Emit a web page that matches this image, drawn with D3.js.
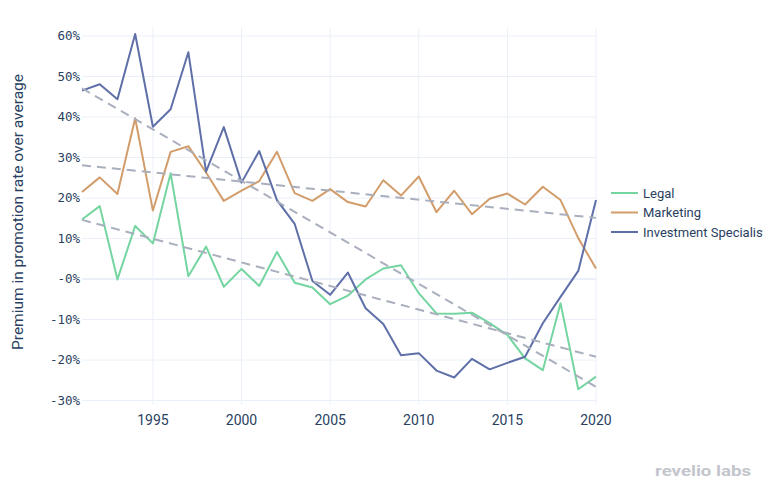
<!DOCTYPE html>
<html>
<head>
<meta charset="utf-8">
<script src="https://cdn.jsdelivr.net/npm/d3@7"></script>
<style>
  body { margin: 0; background: #fff; }
  svg { display: block; }
</style>
</head>
<body>
<svg width="763" height="479"></svg>
<script>
const years = d3.range(1991, 2021);
const legal = [14.7, 18.0, -0.1, 13.1, 8.8, 26.1, 0.7, 8.0, -1.9, 2.5,
  -1.7, 6.7, -0.9, -2.1, -6.2, -4.1, -0.1, 2.6, 3.4, -3.5,
  -8.5, -8.6, -8.3, -10.9, -13.8, -19.6, -22.5, -6.0, -27.2, -24.1];
const marketing = [21.5, 25.1, 21.0, 39.7, 16.9, 31.4, 32.8, 26.3, 19.3, 21.8,
  24.2, 31.4, 21.2, 19.3, 22.2, 19.0, 17.9, 24.4, 20.6, 25.3,
  16.5, 21.8, 16.0, 19.8, 21.1, 18.4, 22.8, 19.5, 10.1, 2.6];
const investment = [46.5, 48.1, 44.4, 60.5, 37.6, 41.9, 56.0, 26.5, 37.5, 23.8,
  31.6, 19.5, 13.6, -0.5, -3.9, 1.6, -7.2, -11.1, -18.8, -18.3,
  -22.6, -24.3, -19.7, -22.3, -20.7, -19.2, -10.9, -4.4, 2.0, 19.5];
// dashed trend lines, value at first and last year
const trendLegal = [14.6, -19.2];
const trendMarketing = [28.1, 15.1];
const trendInvestment = [47.1, -26.6];

const seriesNames = ["Legal", "Marketing", "Investment Specialist"];
const colors = ["#74d5a0", "#d29d6b", "#5f6fa8"];
const yTicks = [-30, -20, -10, 0, 10, 20, 30, 40, 50, 60];
const xTicks = [1995, 2000, 2005, 2010, 2015, 2020];

const svg = d3.select("svg");
const x = d3.scaleLinear().domain([1991, 2020]).range([82, 596]);
const y = d3.scaleLinear().domain([-31, 62]).range([404.6, 27.9]);
const textColor = "#2a3f5f";

// grid
svg.append("g").selectAll("line")
  .data(xTicks)
  .enter().append("line")
  .attr("x1", d => x(d)).attr("x2", d => x(d))
  .attr("y1", y.range()[1]).attr("y2", y.range()[0])
  .attr("stroke", "#ebf0f8").attr("stroke-width", 1);
svg.append("g").selectAll("line")
  .data(yTicks)
  .enter().append("line")
  .attr("x1", 82).attr("x2", 596)
  .attr("y1", d => y(d)).attr("y2", d => y(d))
  .attr("stroke", "#ebf0f8").attr("stroke-width", d => d === 0 ? 2 : 1);

// y labels
svg.append("g").selectAll("text")
  .data(yTicks)
  .enter().append("text")
  .attr("x", 80).attr("y", d => y(d)).attr("dy", "0.35em")
  .attr("text-anchor", "end")
  .attr("font-family", "DejaVu Sans Mono, monospace")
  .attr("font-size", 12.5)
  .attr("fill", textColor)
  .text(d => (d === 0 ? "-0" : d) + "%");

// x labels
svg.append("g").selectAll("text")
  .data(xTicks)
  .enter().append("text")
  .attr("x", d => x(d)).attr("y", 425)
  .attr("text-anchor", "middle")
  .attr("font-family", "Roboto, sans-serif")
  .attr("font-size", 14)
  .attr("fill", textColor)
  .text(d => d);

// y title
svg.append("text")
  .attr("transform", "translate(23,212) rotate(-90)")
  .attr("text-anchor", "middle")
  .attr("font-family", "Roboto, sans-serif")
  .attr("font-size", 15.5)
  .attr("fill", textColor)
  .text("Premium in promotion rate over average");

const line = d3.line().x((d, i) => x(years[i])).y(d => y(d));
const allSeries = [legal, marketing, investment];
const trends = [trendLegal, trendMarketing, trendInvestment];

svg.append("g").selectAll("path")
  .data(allSeries)
  .enter().append("path")
  .attr("d", d => line(d))
  .attr("fill", "none")
  .attr("stroke", (d, i) => colors[i])
  .attr("stroke-width", 2)
  .attr("stroke-linejoin", "round");

svg.append("g").selectAll("line")
  .data(trends)
  .enter().append("line")
  .attr("x1", x(1991)).attr("x2", x(2020))
  .attr("y1", d => y(d[0])).attr("y2", d => y(d[1]))
  .attr("stroke", "#a9afbd")
  .attr("stroke-width", 2)
  .attr("stroke-dasharray", "9,6");

// legend
const legend = svg.append("g").attr("transform", "translate(611,193)");
const items = legend.selectAll("g")
  .data(seriesNames)
  .enter().append("g")
  .attr("transform", (d, i) => `translate(0,${i * 19.5})`);
items.append("line")
  .attr("x1", 0).attr("x2", 27)
  .attr("stroke", (d, i) => colors[i]).attr("stroke-width", 2);
items.append("text")
  .attr("x", 32).attr("dy", "0.35em")
  .attr("font-family", "Roboto, sans-serif")
  .attr("font-size", 13)
  .attr("fill", textColor)
  .text(d => d);

// logo
svg.append("text")
  .attr("x", 655).attr("y", 476)
  .attr("font-family", "Roboto, sans-serif")
  .attr("font-weight", "bold")
  .attr("font-size", 15)
  .attr("textLength", 96)
  .attr("lengthAdjust", "spacingAndGlyphs")
  .attr("fill", "#c4c5cc")
  .text("revelio labs");
</script>
</body>
</html>
